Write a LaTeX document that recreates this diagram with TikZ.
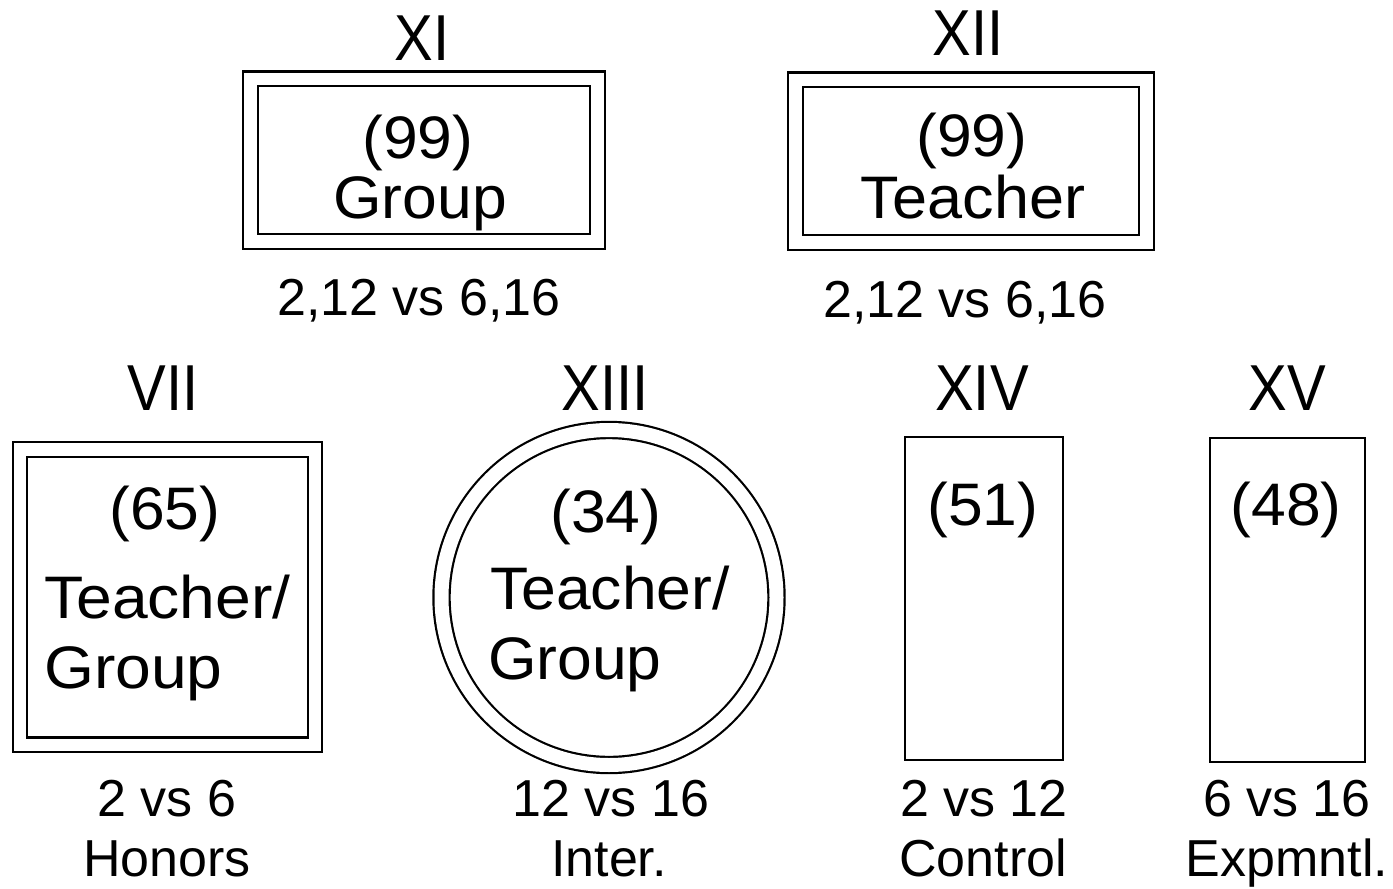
\documentclass[tikz,border=0pt]{standalone}
\usepackage{fontspec}
\setmainfont{Liberation Sans}
\begin{document}
\begin{tikzpicture}[x=1pt,y=-1pt,
  dbox/.style={draw=black, line width=2.2pt, double=white, double distance=12.5pt, inner sep=0pt, outer sep=0pt},
  sbox/.style={draw=black, line width=2.4pt, inner sep=0pt, outer sep=0pt},
  title/.style={anchor=base, inner sep=0pt, font=\fontsize{58}{58}\selectfont},
  inner/.style={anchor=base, inner sep=0pt, font=\fontsize{60}{60}\selectfont},
  innerl/.style={anchor=base west, inner sep=0pt, font=\fontsize{60}{60}\selectfont},
  lab/.style={anchor=base, inner sep=0pt, font=\fontsize{52}{52}\selectfont}]
\useasboundingbox (0,0) rectangle (1393,889);
% top row
\node[dbox, minimum width=347pt, minimum height=162.5pt] (xi) at (424,160) {};
\node[title] (xit) at (422,60) {\scalebox{1}[1.12]{XI}};
\node[inner] (xia) at (418,158) {\scalebox{1.04}[1]{(99)}};
\node[inner] (xib) at (420,218) {\scalebox{1.04}[1]{Group}};
\node[lab] (xil) at (419,315) {2,12 vs 6,16};

\node[dbox, minimum width=351pt, minimum height=162.5pt] (xii) at (971,161) {};
\node[title] (xiit) at (968,55) {\scalebox{1}[1.12]{XII}};
\node[inner] (xiia) at (972,156) {\scalebox{1.04}[1]{(99)}};
\node[inner] (xiib) at (973,218) {\scalebox{1.05}[1]{Teacher}};
\node[lab] (xiil) at (965,317) {2,12 vs 6,16};

% bottom row
\node[dbox, minimum width=295pt, minimum height=295.5pt] (vii) at (167.5,597) {};
\node[title] (viit) at (163,410) {\scalebox{1}[1.12]{VII}};
\node[inner] (viia) at (165,529) {\scalebox{1.04}[1]{(65)}};
\node[innerl] (viib) at (44,618) {\scalebox{1.07}[1]{Teacher/}};
\node[innerl] (viic) at (44,688) {\scalebox{1.07}[1]{Group}};
\node[lab] (viil) at (167,816) {2 vs 6};
\node[lab] (viim) at (167,876) {Honors};

\node[dbox, circle, double distance=14pt, minimum size=335pt] (xiii) at (609,597.5) {};
\node[title] (xiiit) at (605,410) {\scalebox{1}[1.12]{XIII}};
\node[inner] (xiiia) at (606,532) {\scalebox{1.04}[1]{(34)}};
\node[innerl] (xiiib) at (490,609) {\scalebox{1.04}[1]{Teacher/}};
\node[innerl] (xiiic) at (488,679) {\scalebox{1.04}[1]{Group}};
\node[lab] (xiiil) at (611,816) {12 vs 16};
\node[lab] (xiiim) at (609,876) {Inter.};

\node[sbox, minimum width=158pt, minimum height=323pt] (xiv) at (984,598.5) {};
\node[title] (xivt) at (982,410) {\scalebox{1}[1.12]{XIV}};
\node[inner] (xiva) at (983,525) {\scalebox{1.04}[1]{(51)}};
\node[lab] (xivl) at (984,816) {2 vs 12};
\node[lab] (xivm) at (983,876) {Control};

\node[sbox, minimum width=155pt, minimum height=324pt] (xv) at (1287.5,600) {};
\node[title] (xvt) at (1287,410) {\scalebox{1}[1.12]{XV}};
\node[inner] (xva) at (1286,525) {\scalebox{1.04}[1]{(48)}};
\node[lab] (xvl) at (1287,816) {6 vs 16};
\node[lab] (xvm) at (1287,876) {Expmntl.};
\end{tikzpicture}
\end{document}
